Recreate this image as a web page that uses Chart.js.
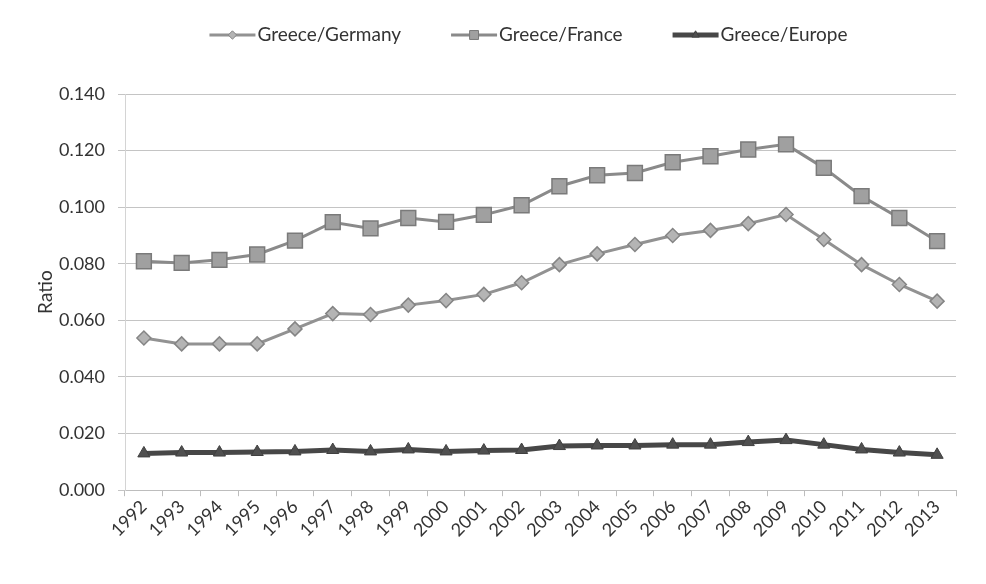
<!DOCTYPE html>
<html>
<head>
<meta charset="utf-8">
<script src="https://cdn.jsdelivr.net/npm/chart.js@4"></script>
<style>
  html, body { margin: 0; padding: 0; background: #fff; }
  #wrap { width: 986px; height: 584px; }
</style>
</head>
<body>
<div id="wrap"><canvas id="chart" width="986" height="584"></canvas></div>
<script>
// ── Data ─────────────────────────────────────────────────────────────────
const years = ['1992','1993','1994','1995','1996','1997','1998','1999','2000','2001','2002',
               '2003','2004','2005','2006','2007','2008','2009','2010','2011','2012','2013'];

const greeceGermany = [0.0538, 0.0517, 0.0517, 0.0517, 0.0570, 0.0624, 0.0621, 0.0654, 0.0670, 0.0692, 0.0733,
                       0.0797, 0.0835, 0.0868, 0.0900, 0.0918, 0.0942, 0.0974, 0.0886, 0.0797, 0.0727, 0.0668];

const greeceFrance  = [0.0809, 0.0803, 0.0814, 0.0833, 0.0882, 0.0947, 0.0925, 0.0962, 0.0948, 0.0973, 0.1007,
                       0.1074, 0.1113, 0.1121, 0.1159, 0.1180, 0.1204, 0.1222, 0.1139, 0.1039, 0.0962, 0.0880];

const greeceEurope  = [0.0130, 0.0133, 0.0133, 0.0135, 0.0137, 0.0142, 0.0137, 0.0144, 0.0137, 0.0140, 0.0142,
                       0.0156, 0.0158, 0.0158, 0.0161, 0.0161, 0.0170, 0.0177, 0.0161, 0.0144, 0.0133, 0.0125];

const yTicks = { min: 0, max: 0.14, step: 0.02 };

const FONT = 'Lato, "Open Sans", sans-serif';
const TEXT = '#333333';

// ── Legend: line segment with the series marker, over the plot ───────────
const lineLegend = {
  id: 'lineLegend',
  afterDraw(chart) {
    const { ctx, chartArea } = chart;
    const y = 35;
    const segW = 46;
    const gap = 50;
    ctx.save();
    ctx.font = `19px ${FONT}`;
    ctx.textBaseline = 'middle';
    const items = chart.data.datasets.map(ds => ({ ds, w: segW + 2 + ctx.measureText(ds.label).width }));
    const total = items.reduce((s, it) => s + it.w, 0) + gap * (items.length - 1);
    let x = (chartArea.left + chartArea.right - total) / 2 - 12;
    for (const { ds, w } of items) {
      ctx.strokeStyle = ds.borderColor;
      ctx.lineWidth = ds.borderWidth;
      ctx.beginPath();
      ctx.moveTo(x, y);
      ctx.lineTo(x + segW, y);
      ctx.stroke();
      ctx.fillStyle = ds.pointBackgroundColor;
      ctx.strokeStyle = ds.pointBorderColor;
      ctx.lineWidth = 1;
      Chart.helpers.drawPoint(ctx, { pointStyle: ds.pointStyle, radius: ds.pointRadius * 0.6, borderWidth: 1 },
                              x + segW / 2, y);
      ctx.fillStyle = TEXT;
      ctx.fillText(ds.label, x + segW + 2, y);
      x += w + gap;
    }
    ctx.restore();
  },
};

new Chart(document.getElementById('chart'), {
  type: 'line',
  data: {
    labels: years,
    datasets: [
      {
        label: 'Greece/Germany',
        data: greeceGermany,
        borderColor: '#929292',
        borderWidth: 3,
        pointStyle: 'rectRot',
        pointRadius: 7,
        pointBackgroundColor: '#b4b4b4',
        pointBorderColor: '#858585',
        pointBorderWidth: 1.5,
      },
      {
        label: 'Greece/France',
        data: greeceFrance,
        borderColor: '#8a8a8a',
        borderWidth: 3,
        pointStyle: 'rect',
        pointRadius: 10.5,
        pointBackgroundColor: '#a0a0a0',
        pointBorderColor: '#7a7a7a',
        pointBorderWidth: 1.5,
      },
      {
        label: 'Greece/Europe',
        data: greeceEurope,
        borderColor: '#474747',
        borderWidth: 5,
        pointStyle: 'triangle',
        pointRadius: 7,
        pointBackgroundColor: '#505050',
        pointBorderColor: '#404040',
        pointBorderWidth: 1,
      },
    ],
  },
  options: {
    responsive: false,
    animation: false,
    layout: { padding: { top: 94, right: 30, bottom: 43, left: 30 } },
    plugins: {
      legend: { display: false },
      tooltip: { enabled: false },
    },
    scales: {
      x: {
        offset: true,
        grid: { drawOnChartArea: false, offset: true, tickLength: 6, color: '#bdbdbd' },
        border: { color: '#bdbdbd', dash: [2, 2] },
        ticks: {
          color: TEXT,
          font: { family: FONT, size: 18 },
          maxRotation: 45,
          minRotation: 45,
          autoSkip: false,
          padding: 0,
        },
      },
      y: {
        min: yTicks.min,
        max: yTicks.max,
        afterFit: scale => { scale.width = 95; },
        title: {
          display: true,
          text: 'Ratio',
          color: TEXT,
          font: { family: FONT, size: 19 },
          padding: { top: 4, bottom: 4 },
        },
        grid: { color: '#c4c4c4', tickLength: 7 },
        border: { color: '#d4d4d4' },
        ticks: {
          stepSize: yTicks.step,
          color: TEXT,
          font: { family: FONT, size: 18 },
          padding: 13,
          callback: v => v.toFixed(3),
        },
      },
    },
  },
  plugins: [lineLegend],
});
</script>
</body>
</html>
